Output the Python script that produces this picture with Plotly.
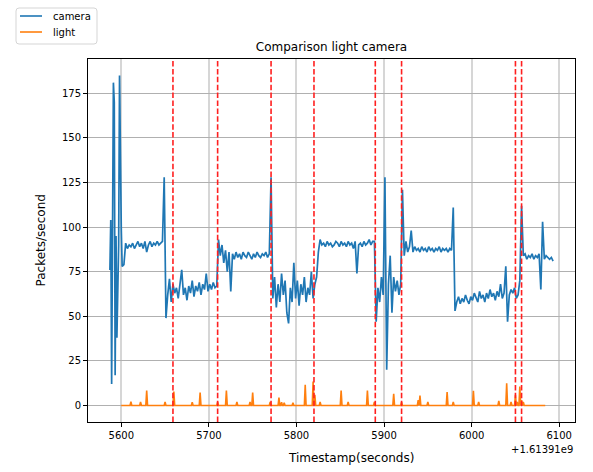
import numpy as np
import plotly.graph_objects as go

# ---------------- data ----------------
OFFSET_TEXT = "+1.61391e9"

# camera: first wild seconds (irregular read-off), then values every 2 s
cam_head_t = [5587, 5588, 5589, 5591, 5592, 5593, 5594, 5595, 5597, 5598, 5600, 5601]
cam_head_v = [76, 104, 12, 181, 170, 17, 95, 38, 90, 185, 99, 78]

cam_body_start = 5603
cam_body_step = 2
cam_body_v = [
    # 5603-5647
    79, 91, 88, 90, 89, 91, 88, 90, 92, 89, 91, 88, 92, 86, 90, 92, 89, 91, 90, 92, 90, 91, 92,
    # 5649, 5651
    128, 49,
    # 5653-5709
    62, 71, 58, 68, 63, 66, 60, 68, 76, 62, 66, 59, 67, 63, 70, 61, 67, 64, 69, 62, 68, 65, 74, 64, 68, 65, 69, 66, 67,
    # 5711
    93,
    # 5713-5769
    84, 90, 80, 87, 75, 86, 64, 85, 82, 86, 83, 85, 82, 86, 84, 83, 86, 84, 82, 85, 83, 86, 84, 83, 85, 84, 86, 83, 85,
    # 5771
    128,
    # 5773-5819
    60, 72, 55, 68, 58, 74, 62, 70, 52, 46, 66, 58, 80, 60, 70, 56, 68, 62, 72, 58, 66, 62, 75, 60,
    # 5821-5827
    68, 72, 86, 93,
    # 5829-5887
    90, 91, 89, 92, 90, 91, 89, 90, 92, 91, 89, 92, 90, 91, 89, 92, 90, 91, 88, 92, 74, 90, 91, 89, 92, 90, 91, 93, 90, 92,
    # 5889, 5891
    92, 47,
    # 5893-5919
    66, 58, 72, 62, 128, 20, 68, 84, 52, 72, 64, 70, 62, 68,
    # 5921
    121,
    # 5923-5977
    84, 92, 86, 89, 98, 86, 89, 87, 88, 86, 89, 87, 88, 86, 89, 87, 88, 86, 88, 87, 89, 86, 88, 87, 88, 86, 88, 87,
    # 5979, 5981
    111, 53,
    # 5983-6049
    58, 61, 57, 60, 58, 62, 59, 57, 61, 59, 63, 60, 58, 64, 60, 62, 58, 63, 60, 65, 61, 63, 59, 64, 61, 68, 60, 63, 78, 47, 62, 65, 63, 66,
    # 6051-6059
    60, 62, 70, 112, 84,
    # 6061-6093
    85, 82, 84, 83, 85, 82, 84, 83, 85, 65, 103, 82, 84, 83, 82, 83, 81,
]

# light: spike times and heights, baseline 0 from 5600 to 6084
light_start, light_end = 5600, 6084
light_spike_t = [5611, 5622, 5629, 5650, 5660, 5681, 5690, 5710, 5720, 5732, 5747, 5750,
                 5770, 5780, 5783, 5786, 5796, 5810, 5819, 5821, 5827, 5851, 5859, 5881,
                 5889, 5911, 5920, 5939, 5941, 5950, 5972, 5979, 6002, 6008, 6031, 6040,
                 6045, 6050, 6052, 6055, 6057, 6059]
light_spike_v = [2.2, 2, 8.4, 2, 7.8, 1.8, 7.3, 2, 8.4, 2, 2, 7.3,
                 2, 4.5, 1.8, 1.5, 1.5, 11.6, 13.5, 6, 2, 8.4, 2, 8.4,
                 2, 6.5, 2, 3, 5.6, 2, 7.5, 2, 8.2, 2, 2.6, 12.5,
                 2, 6, 2, 10.6, 3, 2]

# event markers (red dashed)
event_t = [5659, 5710, 5771, 5820, 5890, 5920, 6050, 6057]

x_ticks = [5600, 5700, 5800, 5900, 6000, 6100]
y_ticks = [0, 25, 50, 75, 100, 125, 150, 175]

series_names = ["camera", "light"]
series_colors = ["#1f77b4", "#ff7f0e"]

# ---------------- build series ----------------
cam_body_t = [cam_body_start + cam_body_step * i for i in range(len(cam_body_v))]
cam_t = cam_head_t + cam_body_t
cam_v = cam_head_v + cam_body_v

light_t = [light_start]
light_v = [0]
for t, v in zip(light_spike_t, light_spike_v):
    light_t += [t - 1, t, t + 1]
    light_v += [0, v, 0]
light_t.append(light_end)
light_v.append(0)

W, H = 593, 472
ML, MR, MT, MB = 88, 18, 59, 50
PW, PH = W - ML - MR, H - MT - MB


def px(xp):
    return (xp - ML) / PW


def py(yp):
    return (H - MB - yp) / PH


FONT = "DejaVu Sans"
fig = go.Figure()
fig.add_trace(go.Scatter(x=cam_t, y=cam_v, mode="lines", name=series_names[0],
                         line=dict(color=series_colors[0], width=1.7), showlegend=False))
fig.add_trace(go.Scatter(x=light_t, y=light_v, mode="lines", name=series_names[1],
                         line=dict(color=series_colors[1], width=1.6), showlegend=False))

for t in event_t:
    fig.add_shape(type="line", xref="x", yref="paper", x0=t, x1=t, y0=0, y1=1,
                  line=dict(color="#ff2020", width=1.6, dash="5.5px,2.4px"), layer="above")

# legend box (outside the axes, top-left), matplotlib-style rounded frame
x0, x1, y0, y1, r = 16, 97, 8, 44, 3
path = (f"M {px(x0 + r)},{py(y0)} L {px(x1 - r)},{py(y0)} "
        f"Q {px(x1)},{py(y0)} {px(x1)},{py(y0 + r)} L {px(x1)},{py(y1 - r)} "
        f"Q {px(x1)},{py(y1)} {px(x1 - r)},{py(y1)} L {px(x0 + r)},{py(y1)} "
        f"Q {px(x0)},{py(y1)} {px(x0)},{py(y1 - r)} L {px(x0)},{py(y0 + r)} "
        f"Q {px(x0)},{py(y0)} {px(x0 + r)},{py(y0)} Z")
fig.add_shape(type="path", path=path, xref="paper", yref="paper",
              line=dict(color="#d5d5d5", width=1), fillcolor="white", layer="above")
for i, (name, col) in enumerate(zip(series_names, series_colors)):
    yy = 16 + 16 * i
    fig.add_shape(type="line", xref="paper", yref="paper", x0=px(20), x1=px(42),
                  y0=py(yy), y1=py(yy), line=dict(color=col, width=1.6), layer="above")
    fig.add_annotation(text=name, xref="paper", yref="paper", x=px(51), y=py(yy),
                       xanchor="left", yanchor="middle", showarrow=False,
                       font=dict(family=FONT, size=10, color="#000000"))

fig.update_layout(
    width=W, height=H,
    margin=dict(l=ML, r=MR, t=MT, b=MB),
    paper_bgcolor="white", plot_bgcolor="white",
    font=dict(family=FONT, size=10, color="#000000"),
    showlegend=False,
    title=dict(text="Comparison light camera", x=0.5, xref="paper", xanchor="center",
               y=1 - 47 / H, yref="container", yanchor="middle",
               font=dict(family=FONT, size=12, color="#000000")),
)
fig.update_xaxes(range=[5562, 6118], tickvals=x_ticks, ticktext=[str(v) for v in x_ticks],
                 showgrid=True, gridcolor="#d6d6d6", gridwidth=2,
                 showline=True, linecolor="#000000", linewidth=1, mirror=True,
                 ticks="outside", ticklen=4, tickcolor="#000000", zeroline=False,
                 tickfont=dict(family=FONT, size=10, color="#000000"))
fig.update_yaxes(range=[-9.25, 194.25], tickvals=y_ticks,
                 showgrid=True, gridcolor="#b0b0b0", gridwidth=1,
                 showline=True, linecolor="#000000", linewidth=1, mirror=True,
                 ticks="outside", ticklen=4, tickcolor="#000000", zeroline=False,
                 tickfont=dict(family=FONT, size=10, color="#000000"))

fig.add_annotation(text="Timestamp(seconds)", xref="paper", yref="paper",
                   x=px(351), y=py(458), xanchor="center", yanchor="middle",
                   showarrow=False, font=dict(family=FONT, size=12, color="#000000"))
fig.add_annotation(text="Packets/second", xref="paper", yref="paper",
                   x=px(40), y=0.5, xanchor="center", yanchor="middle", textangle=-90,
                   showarrow=False, font=dict(family=FONT, size=12, color="#000000"))
fig.add_annotation(text=OFFSET_TEXT, xref="paper", yref="paper",
                   x=1, y=py(449), xanchor="right", yanchor="middle",
                   showarrow=False, font=dict(family=FONT, size=10, color="#000000"))

fig.write_html("out.html")
